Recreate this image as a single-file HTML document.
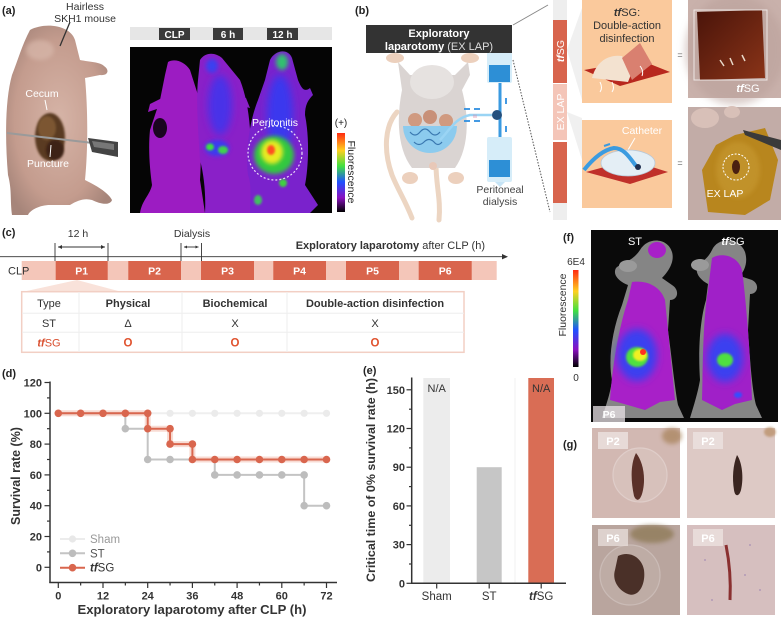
<!DOCTYPE html>
<html><head><meta charset="utf-8">
<style>
html,body{margin:0;padding:0;background:#fff;}
svg{display:block;font-family:"Liberation Sans",Arial,sans-serif;}
</style></head><body>
<svg width="781" height="617" viewBox="0 0 781 617" xmlns="http://www.w3.org/2000/svg">
<defs>
 <filter id="b1" x="-50%" y="-50%" width="200%" height="200%"><feGaussianBlur stdDeviation="1"/></filter>
 <filter id="b2" x="-50%" y="-50%" width="200%" height="200%"><feGaussianBlur stdDeviation="2"/></filter>
 <filter id="b4" x="-50%" y="-50%" width="200%" height="200%"><feGaussianBlur stdDeviation="4"/></filter>
 <linearGradient id="cbar" x1="0" y1="0" x2="0" y2="1">
  <stop offset="0" stop-color="#ff2a10"/>
  <stop offset="0.22" stop-color="#ffd020"/>
  <stop offset="0.42" stop-color="#40e040"/>
  <stop offset="0.62" stop-color="#2050ff"/>
  <stop offset="0.82" stop-color="#8a10c0"/>
  <stop offset="1" stop-color="#000"/>
 </linearGradient>
 <radialGradient id="skin" cx="0.5" cy="0.5" r="0.6">
  <stop offset="0" stop-color="#d6b4a7"/>
  <stop offset="0.7" stop-color="#c49c8e"/>
  <stop offset="1" stop-color="#a6857a"/>
 </radialGradient>
 <linearGradient id="patch" x1="0" y1="0" x2="1" y2="1">
  <stop offset="0" stop-color="#4a140a"/>
  <stop offset="1" stop-color="#8a3418"/>
 </linearGradient>
</defs>

<!-- ================= (a) ================= -->
<text x="2" y="14" font-size="11" font-weight="bold" fill="#222">(a)</text>
<text x="85" y="10" font-size="10.5" fill="#333" text-anchor="middle">Hairless</text>
<text x="85" y="22" font-size="10.5" fill="#333" text-anchor="middle">SKH1 mouse</text>
<path d="M30 30 C45 22,70 25,75 40 L80 60 C90 62,100 62,104 66 C110 70,108 76,100 75 L85 78 C88 110,88 150,85 180 C95 185,108 192,112 200 C110 206,100 204,92 200 C85 198,78 200,70 205 L50 205 C40 205,30 210,28 215 L12 215 C10 200,12 190,8 175 C5 140,5 100,12 75 C18 60,22 45,30 30 Z" fill="url(#skin)"/>
<ellipse cx="40" cy="50" rx="14" ry="10" fill="#d8b8ab" opacity="0.7" filter="url(#b2)"/>
<line x1="70" y1="22" x2="60" y2="46" stroke="#333" stroke-width="1.3"/>
<ellipse cx="50" cy="137" rx="15" ry="24" fill="#5a3a20" filter="url(#b1)"/>
<ellipse cx="47" cy="128" rx="9" ry="12" fill="#7c5630" filter="url(#b1)"/>
<ellipse cx="55" cy="150" rx="9" ry="10" fill="#3e2214" filter="url(#b1)"/>
<line x1="7" y1="133" x2="93" y2="143" stroke="#9a9a9a" stroke-width="2"/>
<polygon points="88,138 118,142 118,157 92,152" fill="#444"/>
<polygon points="92,141 114,144 114,150 94,147" fill="#777"/>
<text x="42" y="97" font-size="10.5" fill="#fff" text-anchor="middle">Cecum</text>
<line x1="45" y1="100" x2="47" y2="110" stroke="#fff" stroke-width="1"/>
<text x="48" y="167" font-size="10.5" fill="#fff" text-anchor="middle">Puncture</text>
<line x1="50" y1="157" x2="51" y2="145" stroke="#fff" stroke-width="1"/>

<rect x="130" y="27" width="202" height="13" fill="#e6e6e6"/>
<rect x="159" y="28" width="31" height="12" fill="#3a3a3a"/>
<rect x="213" y="28" width="30" height="12" fill="#3a3a3a"/>
<rect x="267" y="28" width="31" height="12" fill="#3a3a3a"/>
<text x="174.5" y="38" font-size="10" font-weight="bold" fill="#fff" text-anchor="middle">CLP</text>
<text x="228" y="38" font-size="10" font-weight="bold" fill="#fff" text-anchor="middle">6 h</text>
<text x="282.5" y="38" font-size="10" font-weight="bold" fill="#fff" text-anchor="middle">12 h</text>
<rect x="130" y="47" width="202" height="166" fill="#050505"/>
<!-- mouse 1 -->
<path d="M168 62 C175 58,185 62,190 70 L198 95 C200 120,202 150,200 180 L205 213 L140 213 C142 200,150 195,152 185 C150 170,148 150,150 130 L160 100 L165 75 Z" fill="#9c1cc2"/>
<path d="M162 98 L150 104 L148 112 L160 108 Z" fill="#9c1cc2"/>
<ellipse cx="160" cy="128" rx="7" ry="10" fill="#1a0520"/>
<!-- mouse 2 -->
<path d="M200 60 C205 52,215 52,222 58 L240 80 C248 100,252 130,250 160 C252 180,255 200,252 213 L205 213 C206 195,204 175,200 160 C198 130,196 100,198 80 Z" fill="#8a20c8"/>
<path d="M238 95 L246 98 L250 108 L242 106 Z" fill="#8a20c8"/>
<ellipse cx="220" cy="105" rx="12" ry="30" fill="#4a30e8" filter="url(#b4)"/>
<ellipse cx="212" cy="66" rx="6" ry="7" fill="#3a40f0" filter="url(#b2)"/>
<ellipse cx="217" cy="148" rx="12" ry="8" fill="#3a3af0" filter="url(#b2)"/>
<ellipse cx="210" cy="147" rx="4" ry="3.5" fill="#40e040" filter="url(#b1)"/>
<ellipse cx="223" cy="150" rx="5" ry="4" fill="#40d050" filter="url(#b1)"/>
<!-- mouse 3 -->
<path d="M270 60 C275 50,288 48,292 58 L298 80 C302 90,305 92,310 88 L313 95 C308 100,305 105,305 115 C310 140,308 170,305 185 L318 205 L310 213 L250 213 C250 200,252 185,248 175 C245 150,250 120,258 100 L265 80 Z" fill="#7a22cc"/>
<ellipse cx="280" cy="115" rx="13" ry="40" fill="#3a38ee" filter="url(#b4)"/>
<ellipse cx="282" cy="62" rx="6" ry="8" fill="#30c070" filter="url(#b2)"/>
<ellipse cx="274" cy="155" rx="20" ry="19" fill="#30c840" filter="url(#b2)"/>
<ellipse cx="272" cy="152" rx="11" ry="12" fill="#e8ea20" filter="url(#b2)"/>
<ellipse cx="271" cy="150" rx="4" ry="5" fill="#ff5020" filter="url(#b1)"/>
<ellipse cx="283" cy="183" rx="4" ry="4" fill="#40d040" filter="url(#b1)"/>
<ellipse cx="258" cy="200" rx="4" ry="5" fill="#40c060" filter="url(#b1)"/>
<circle cx="275" cy="153" r="27" fill="none" stroke="#fff" stroke-width="1.2" stroke-dasharray="2,2" opacity="0.85"/>
<text x="275" y="126" font-size="10.5" fill="#fff" text-anchor="middle">Peritonitis</text>
<rect x="337" y="133" width="8" height="79" fill="url(#cbar)"/>
<text x="341" y="126" font-size="10" fill="#222" text-anchor="middle">(+)</text>
<text transform="translate(348,172) rotate(90)" font-size="10.5" fill="#222" text-anchor="middle">Fluorescence</text>

<!-- ================= (b) ================= -->
<text x="355" y="14" font-size="11" font-weight="bold" fill="#222">(b)</text>
<path d="M397 112 C385 125,383 150,392 175 C398 190,405 200,412 218" fill="none" stroke="#ecd5c2" stroke-width="5" stroke-linecap="round"/>
<path d="M436 165 C436 185,441 200,439 220" fill="none" stroke="#ecd5c2" stroke-width="5" stroke-linecap="round"/>
<ellipse cx="395" cy="58" rx="9" ry="5" fill="#ecd0bd"/>
<ellipse cx="470" cy="58" rx="9" ry="5" fill="#ecd0bd"/>
<path d="M398 62 L410 75 L455 75 L468 62 L470 75 L462 90 C470 120,468 150,455 168 L412 168 C398 150,396 120,402 90 Z" fill="#dad4d2"/>
<ellipse cx="432" cy="82" rx="22" ry="17" fill="#e6e2e0"/>
<ellipse cx="410" cy="178" rx="8" ry="6" fill="#ecd0bd"/>
<ellipse cx="456" cy="178" rx="8" ry="6" fill="#ecd0bd"/>
<ellipse cx="433" cy="166" rx="4" ry="4" fill="#e8c8b8"/>
<circle cx="415" cy="120" r="7" fill="#d09a80"/>
<circle cx="430" cy="117" r="7" fill="#c89078"/>
<circle cx="446" cy="121" r="7" fill="#d09a80"/>
<path d="M403 126 A27 27 0 0 0 457 126 Z" fill="#8ccbee"/>
<path d="M410 132 q5 6 10 0 q5 -6 10 0 q5 6 10 0 M414 142 q5 5 10 0 q5 -5 10 0 q4 5 8 0" fill="none" stroke="#3a78b0" stroke-width="1.2"/>
<path d="M440 140 C450 130,455 118,470 115 L492 115" fill="none" stroke="#9ad4f4" stroke-width="2.5"/>
<g stroke="#2f8fe0" stroke-width="1.8">
<line x1="464" y1="109" x2="470" y2="109"/><line x1="474" y1="109" x2="480" y2="109"/>
<line x1="464" y1="121" x2="470" y2="121"/><line x1="474" y1="121" x2="480" y2="121"/>
<line x1="506" y1="98" x2="506" y2="104"/><line x1="506" y1="126" x2="506" y2="132"/>
</g>
<text x="473" y="117" font-size="4" fill="#e080a0">||||</text>
<line x1="500" y1="83" x2="500" y2="138" stroke="#3a9ae0" stroke-width="3"/>
<circle cx="497" cy="115" r="5" fill="#23507e"/>
<rect x="487" y="52" width="25" height="31" rx="2" fill="#d6edf9"/>
<rect x="489" y="65" width="21" height="17" fill="#2d8fd6"/>
<rect x="487" y="137" width="25" height="45" rx="2" fill="#d6edf9"/>
<rect x="489" y="160" width="21" height="17" fill="#2d8fd6"/>
<polygon points="495,182 505,182 500,187" fill="#c6e4f6"/>
<text x="500" y="193" font-size="10.5" fill="#444" text-anchor="middle">Peritoneal</text>
<text x="500" y="205" font-size="10.5" fill="#444" text-anchor="middle">dialysis</text>
<rect x="366" y="25" width="146" height="28" fill="#333"/>
<text x="439" y="37" font-size="11" font-weight="bold" fill="#fff" text-anchor="middle">Exploratory</text>
<text x="439" y="50" font-size="11" fill="#ddd" text-anchor="middle"><tspan font-weight="bold" fill="#fff">laparotomy</tspan> (EX LAP)</text>
<line x1="513" y1="25" x2="548" y2="5" stroke="#888" stroke-width="1"/>
<line x1="513" y1="60" x2="550" y2="212" stroke="#555" stroke-width="1" stroke-dasharray="1.5,1.5"/>
<polygon points="567,50 582,8 582,100" fill="#f0f0f0"/>
<polygon points="567,112 582,118 582,160" fill="#f0f0f0"/>
<rect x="553" y="0" width="14" height="20" fill="#eeeeee"/>
<rect x="553" y="20" width="14" height="63" fill="#d8644d"/>
<rect x="553" y="84" width="14" height="56" fill="#f4c5b8"/>
<rect x="553" y="142" width="14" height="61" fill="#d8644d"/>
<rect x="553" y="203" width="14" height="17" fill="#eeeeee"/>
<text transform="translate(564,51) rotate(-90)" font-size="10.5" fill="#fff" text-anchor="middle"><tspan font-weight="bold" font-style="italic">tf</tspan>SG</text>
<text transform="translate(564,112) rotate(-90)" font-size="10.5" fill="#fff" text-anchor="middle">EX LAP</text>
<rect x="582" y="0" width="90" height="103" fill="#fac99c"/>
<text x="627" y="16" font-size="11" fill="#333" text-anchor="middle"><tspan font-weight="bold" font-style="italic">tf</tspan>SG:</text>
<text x="627" y="29" font-size="11" fill="#333" text-anchor="middle">Double-action</text>
<text x="627" y="42" font-size="11" fill="#333" text-anchor="middle">disinfection</text>
<polygon points="584,70 640,60 670,72 620,86" fill="#b8281e"/>
<path d="M592 78 C596 62,608 54,622 56 L632 72 L628 82 Z" fill="#f3e2d0"/>
<polygon points="622,58 640,43 652,64 632,80" fill="#d98070"/>
<path d="M600 82 q3 6 0 10 M612 82 q3 6 0 10 M640 66 q4 5 2 10" fill="none" stroke="#fff" stroke-width="1"/>
<rect x="582" y="120" width="90" height="88" fill="#fac99c"/>
<text x="642" y="134" font-size="10.5" fill="#fff" text-anchor="middle">Catheter</text>
<line x1="635" y1="138" x2="628" y2="150" stroke="#fff" stroke-width="1"/>
<polygon points="586,172 630,160 668,172 630,184" fill="#c0302a"/>
<ellipse cx="628" cy="163" rx="27" ry="13" fill="#e4eef5" stroke="#b8c8d8" stroke-width="0.8"/>
<path d="M584 170 C592 160,602 150,614 148 C624 148,630 158,636 166" fill="none" stroke="#3b9be0" stroke-width="4"/>
<circle cx="638" cy="167" r="3" fill="#203050"/>
<line x1="604" y1="146" x2="610" y2="144" stroke="#3b9be0" stroke-width="2"/>
<text x="680" y="58" font-size="9" fill="#666" text-anchor="middle">=</text>
<text x="680" y="166" font-size="9" fill="#666" text-anchor="middle">=</text>
<rect x="688" y="0" width="93" height="98" fill="#c9b1ab"/>
<ellipse cx="735" cy="50" rx="50" ry="55" fill="#b89e98" opacity="0.5" filter="url(#b4)"/>
<polygon points="697,12 762,10 765,78 700,80" fill="url(#patch)"/>
<rect x="694" y="10" width="73" height="70" fill="none" stroke="#fff" stroke-width="1" opacity="0.7"/>
<path d="M720 60 l4 6 M730 58 l3 7 M742 55 l3 6" stroke="#e8d8c8" stroke-width="1.5"/>
<text x="748" y="92" font-size="11" fill="#fff" text-anchor="middle"><tspan font-weight="bold" font-style="italic">tf</tspan>SG</text>
<rect x="688" y="107" width="93" height="113" fill="#c2aca7"/>
<ellipse cx="705" cy="118" rx="14" ry="10" fill="#d8c0b8"/>
<ellipse cx="732" cy="112" rx="8" ry="6" fill="#d8c0b8"/>
<polygon points="735,135 765,128 778,160 770,200 745,215 708,212 702,170 716,145" fill="#b8861e"/>
<ellipse cx="738" cy="170" rx="22" ry="28" fill="#c89a30" opacity="0.6" filter="url(#b2)"/>
<ellipse cx="736" cy="167" rx="4" ry="7" fill="#4a2010"/>
<circle cx="736" cy="167" r="13" fill="none" stroke="#fff" stroke-width="1" stroke-dasharray="2,1.5"/>
<polygon points="743,130 781,140 781,150 745,135" fill="#3a3a3a"/>
<text x="725" y="197" font-size="10.5" fill="#fff" text-anchor="middle">EX LAP</text>

<!-- ================= (c) ================= -->
<text x="2" y="236" font-size="11" font-weight="bold" fill="#222">(c)</text>
<text x="78" y="237" font-size="10.5" fill="#333" text-anchor="middle">12 h</text>
<text x="192" y="237" font-size="10.5" fill="#333" text-anchor="middle">Dialysis</text>
<g stroke="#333" stroke-width="0.9" fill="none">
<line x1="55" y1="243" x2="55" y2="261"/><line x1="108" y1="243" x2="108" y2="261"/>
<line x1="58" y1="247" x2="105" y2="247"/>
<line x1="181" y1="243" x2="181" y2="261"/><line x1="201.5" y1="243" x2="201.5" y2="261"/>
<line x1="184" y1="247" x2="198.5" y2="247"/>
<line x1="0" y1="256.7" x2="504" y2="256.7"/>
</g>
<polygon points="58,247 62,245 62,249" fill="#333"/><polygon points="105,247 101,245 101,249" fill="#333"/>
<polygon points="184,247 187,245.5 187,248.5" fill="#333"/><polygon points="198.5,247 195.5,245.5 195.5,248.5" fill="#333"/>
<polygon points="508,256.7 502,254 502,259.4" fill="#333"/>
<text x="485" y="249" font-size="11" fill="#333" text-anchor="end"><tspan font-weight="bold">Exploratory laparotomy</tspan> after CLP (h)</text>
<rect x="21.7" y="261" width="475" height="19" fill="#f4c6b9"/>
<g fill="#d9654d">
<rect x="55.7" y="261" width="52" height="19"/>
<rect x="128.3" y="261" width="52.7" height="19"/>
<rect x="201" y="261" width="53" height="19"/>
<rect x="273.3" y="261" width="52.7" height="19"/>
<rect x="346" y="261" width="53" height="19"/>
<rect x="418.7" y="261" width="53" height="19"/>
</g>
<g font-size="10.5" font-weight="bold" fill="#fff" text-anchor="middle">
<text x="81.7" y="274.5">P1</text><text x="154.6" y="274.5">P2</text><text x="227.5" y="274.5">P3</text>
<text x="299.6" y="274.5">P4</text><text x="372.5" y="274.5">P5</text><text x="445.2" y="274.5">P6</text>
</g>
<text x="8" y="274.5" font-size="11" fill="#333">CLP</text>
<polygon points="77,280 22,292 122,292" fill="#f9e2da"/>
<rect x="21.7" y="291.7" width="442.3" height="60.6" fill="#fff" stroke="#f2cfc4" stroke-width="1.5"/>
<g stroke="#eeeeee" stroke-width="1">
<line x1="22" y1="313.3" x2="464" y2="313.3"/><line x1="22" y1="332.3" x2="464" y2="332.3"/>
<line x1="79" y1="292" x2="79" y2="352"/><line x1="182" y1="292" x2="182" y2="352"/><line x1="287" y1="292" x2="287" y2="352"/>
</g>
<g font-size="11" fill="#333" text-anchor="middle">
<text x="49" y="307">Type</text>
<text x="128" y="307" font-weight="bold">Physical</text>
<text x="235" y="307" font-weight="bold">Biochemical</text>
<text x="375" y="307" font-weight="bold">Double-action disinfection</text>
<text x="49" y="327">ST</text>
<text x="128" y="327">Δ</text>
<text x="235" y="327">X</text>
<text x="375" y="327">X</text>
</g>
<text x="49" y="346.5" font-size="11" fill="#d94f2f" text-anchor="middle"><tspan font-weight="bold" font-style="italic">tf</tspan>SG</text>
<g font-size="11.5" font-weight="bold" fill="#e0522e" text-anchor="middle">
<text x="128" y="346.5">O</text><text x="235" y="346.5">O</text><text x="375" y="346.5">O</text>
</g>

<!-- ================= (d) ================= -->
<text x="2" y="377" font-size="11" font-weight="bold" fill="#222">(d)</text>
<g stroke="#333" stroke-width="1.5">
<line x1="50" y1="381.5" x2="50" y2="583"/>
<line x1="49.3" y1="582.5" x2="337" y2="582.5"/>
</g>
<g stroke="#333" stroke-width="1.2">
<line x1="44.5" y1="567.3" x2="50" y2="567.3"/><line x1="44.5" y1="536.5" x2="50" y2="536.5"/>
<line x1="44.5" y1="505.7" x2="50" y2="505.7"/><line x1="44.5" y1="474.9" x2="50" y2="474.9"/>
<line x1="44.5" y1="444.1" x2="50" y2="444.1"/><line x1="44.5" y1="413.3" x2="50" y2="413.3"/>
<line x1="44.5" y1="382.5" x2="50" y2="382.5"/>
<line x1="47" y1="551.9" x2="50" y2="551.9"/><line x1="47" y1="521.1" x2="50" y2="521.1"/>
<line x1="47" y1="490.3" x2="50" y2="490.3"/><line x1="47" y1="459.5" x2="50" y2="459.5"/>
<line x1="47" y1="428.7" x2="50" y2="428.7"/><line x1="47" y1="397.9" x2="50" y2="397.9"/>
<line x1="58.3" y1="582.5" x2="58.3" y2="588"/><line x1="103" y1="582.5" x2="103" y2="588"/>
<line x1="147.7" y1="582.5" x2="147.7" y2="588"/><line x1="192.4" y1="582.5" x2="192.4" y2="588"/>
<line x1="237.1" y1="582.5" x2="237.1" y2="588"/><line x1="281.8" y1="582.5" x2="281.8" y2="588"/>
<line x1="326.5" y1="582.5" x2="326.5" y2="588"/>
<line x1="80.65" y1="582.5" x2="80.65" y2="585.5"/><line x1="125.35" y1="582.5" x2="125.35" y2="585.5"/>
<line x1="170.05" y1="582.5" x2="170.05" y2="585.5"/><line x1="214.75" y1="582.5" x2="214.75" y2="585.5"/>
<line x1="259.45" y1="582.5" x2="259.45" y2="585.5"/><line x1="304.15" y1="582.5" x2="304.15" y2="585.5"/>
</g>
<g font-size="11" font-weight="bold" fill="#333" text-anchor="end">
<text x="42" y="571.3">0</text><text x="42" y="540.5">20</text><text x="42" y="509.7">40</text>
<text x="42" y="478.9">60</text><text x="42" y="448.1">80</text><text x="42" y="417.3">100</text><text x="42" y="386.5">120</text>
</g>
<g font-size="11" font-weight="bold" fill="#333" text-anchor="middle">
<text x="58.3" y="599.5">0</text><text x="103" y="599.5">12</text><text x="147.7" y="599.5">24</text>
<text x="192.4" y="599.5">36</text><text x="237.1" y="599.5">48</text><text x="281.8" y="599.5">60</text><text x="326.5" y="599.5">72</text>
</g>
<text x="192" y="614" font-size="12.5" font-weight="bold" fill="#333" text-anchor="middle" textLength="229" lengthAdjust="spacingAndGlyphs">Exploratory laparotomy after CLP (h)</text>
<text transform="translate(20,476) rotate(-90)" font-size="12.5" font-weight="bold" fill="#333" text-anchor="middle">Survival rate (%)</text>
<line x1="58.3" y1="413.3" x2="326.5" y2="413.3" stroke="#efefef" stroke-width="2"/>
<g fill="#ebebeb">
<circle cx="58.3" cy="413.3" r="3.6"/><circle cx="80.65" cy="413.3" r="3.6"/><circle cx="103" cy="413.3" r="3.6"/>
<circle cx="125.35" cy="413.3" r="3.6"/><circle cx="147.7" cy="413.3" r="3.6"/><circle cx="170.05" cy="413.3" r="3.6"/>
<circle cx="192.4" cy="413.3" r="3.6"/><circle cx="214.75" cy="413.3" r="3.6"/><circle cx="237.1" cy="413.3" r="3.6"/>
<circle cx="259.45" cy="413.3" r="3.6"/><circle cx="281.8" cy="413.3" r="3.6"/><circle cx="304.15" cy="413.3" r="3.6"/>
<circle cx="326.5" cy="413.3" r="3.6"/>
</g>
<polyline points="58.3,413.3 125.35,413.3 125.35,428.7 147.7,428.7 147.7,459.5 214.75,459.5 214.75,474.9 304.15,474.9 304.15,505.7 326.5,505.7" fill="none" stroke="#c4c4c4" stroke-width="2"/>
<g fill="#bdbdbd">
<circle cx="125.35" cy="428.7" r="3.8"/><circle cx="147.7" cy="459.5" r="3.8"/><circle cx="170.05" cy="459.5" r="3.8"/>
<circle cx="214.75" cy="474.9" r="3.8"/><circle cx="237.1" cy="474.9" r="3.8"/><circle cx="259.45" cy="474.9" r="3.8"/>
<circle cx="281.8" cy="474.9" r="3.8"/><circle cx="304.15" cy="474.9" r="3.8"/><circle cx="304.15" cy="505.7" r="3.8"/>
<circle cx="326.5" cy="505.7" r="3.8"/>
</g>
<polyline points="58.3,413.3 147.7,413.3 147.7,428.7 170.05,428.7 170.05,444.1 192.4,444.1 192.4,459.5 326.5,459.5" fill="none" stroke="#f2b8a8" stroke-width="6" opacity="0.5"/>
<polyline points="58.3,413.3 147.7,413.3 147.7,428.7 170.05,428.7 170.05,444.1 192.4,444.1 192.4,459.5 326.5,459.5" fill="none" stroke="#d9664e" stroke-width="2"/>
<g fill="#d9664e">
<circle cx="58.3" cy="413.3" r="3.8"/><circle cx="80.65" cy="413.3" r="3.8"/><circle cx="103" cy="413.3" r="3.8"/>
<circle cx="125.35" cy="413.3" r="3.8"/><circle cx="147.7" cy="413.3" r="3.8"/><circle cx="147.7" cy="428.7" r="3.8"/>
<circle cx="170.05" cy="428.7" r="3.8"/><circle cx="170.05" cy="444.1" r="3.8"/><circle cx="192.4" cy="444.1" r="3.8"/>
<circle cx="192.4" cy="459.5" r="3.8"/><circle cx="214.75" cy="459.5" r="3.8"/><circle cx="237.1" cy="459.5" r="3.8"/>
<circle cx="259.45" cy="459.5" r="3.8"/><circle cx="281.8" cy="459.5" r="3.8"/><circle cx="304.15" cy="459.5" r="3.8"/>
<circle cx="326.5" cy="459.5" r="3.8"/>
</g>
<line x1="60" y1="539" x2="85" y2="539" stroke="#ececec" stroke-width="2"/><circle cx="72.5" cy="539" r="3.6" fill="#e8e8e8"/>
<text x="90" y="543" font-size="11.5" fill="#999">Sham</text>
<line x1="60" y1="553.3" x2="85" y2="553.3" stroke="#c4c4c4" stroke-width="2"/><circle cx="72.5" cy="553.3" r="3.8" fill="#bdbdbd"/>
<text x="90" y="557.3" font-size="11.5" fill="#555">ST</text>
<line x1="60" y1="567.7" x2="85" y2="567.7" stroke="#d9664e" stroke-width="2"/><circle cx="72.5" cy="567.7" r="3.8" fill="#d9664e"/>
<text x="90" y="571.7" font-size="11.5" fill="#333"><tspan font-weight="bold" font-style="italic">tf</tspan>SG</text>

<!-- ================= (e) ================= -->
<text x="363" y="374" font-size="11" font-weight="bold" fill="#222">(e)</text>
<rect x="423.3" y="378" width="26.7" height="205.3" fill="#ececec"/>
<rect x="476.7" y="467.2" width="25" height="116.1" fill="#c6c6c6"/>
<rect x="528.3" y="378" width="25.7" height="205.3" fill="#d96d55"/>
<line x1="515" y1="378" x2="515" y2="583" stroke="#f2f2f2" stroke-width="1"/>
<text x="436.7" y="392" font-size="11" fill="#333" text-anchor="middle">N/A</text>
<text x="541.2" y="392" font-size="11" fill="#333" text-anchor="middle">N/A</text>
<g stroke="#333" stroke-width="1.5">
<line x1="411.7" y1="377.5" x2="411.7" y2="584"/>
<line x1="411" y1="583.3" x2="566" y2="583.3"/>
</g>
<g stroke="#333" stroke-width="1.2">
<line x1="406.5" y1="583.3" x2="411.7" y2="583.3"/><line x1="406.5" y1="544.6" x2="411.7" y2="544.6"/>
<line x1="406.5" y1="505.9" x2="411.7" y2="505.9"/><line x1="406.5" y1="467.2" x2="411.7" y2="467.2"/>
<line x1="406.5" y1="428.5" x2="411.7" y2="428.5"/><line x1="406.5" y1="389.8" x2="411.7" y2="389.8"/>
<line x1="409" y1="564" x2="411.7" y2="564"/><line x1="409" y1="525.3" x2="411.7" y2="525.3"/>
<line x1="409" y1="486.6" x2="411.7" y2="486.6"/><line x1="409" y1="447.9" x2="411.7" y2="447.9"/>
<line x1="409" y1="409.2" x2="411.7" y2="409.2"/>
<line x1="436.7" y1="583.3" x2="436.7" y2="588.5"/><line x1="489.2" y1="583.3" x2="489.2" y2="588.5"/>
<line x1="541.2" y1="583.3" x2="541.2" y2="588.5"/>
</g>
<g font-size="11" font-weight="bold" fill="#333" text-anchor="end">
<text x="405" y="587.3">0</text><text x="405" y="548.6">30</text><text x="405" y="509.9">60</text>
<text x="405" y="471.2">90</text><text x="405" y="432.5">120</text><text x="405" y="393.8">150</text>
</g>
<g font-size="11.5" fill="#333" text-anchor="middle">
<text x="436.7" y="600">Sham</text><text x="489.2" y="600">ST</text>
<text x="541.2" y="600"><tspan font-weight="bold" font-style="italic">tf</tspan>SG</text>
</g>
<text transform="translate(375,480) rotate(-90)" font-size="11.5" font-weight="bold" fill="#333" text-anchor="middle" textLength="204" lengthAdjust="spacingAndGlyphs">Critical time of 0% survival rate (h)</text>

<!-- ================= (f) ================= -->
<text x="563" y="241" font-size="11" font-weight="bold" fill="#222">(f)</text>
<text x="576" y="265" font-size="10" fill="#333" text-anchor="middle">6E4</text>
<rect x="573" y="270" width="5.5" height="97" fill="url(#cbar)"/>
<text x="576" y="381" font-size="10" fill="#333" text-anchor="middle">0</text>
<text transform="translate(566,305) rotate(-90)" font-size="10.5" fill="#333" text-anchor="middle">Fluorescence</text>
<rect x="591" y="230" width="187" height="192" fill="#0a0a0a"/>
<path d="M640 250 C648 236,668 238,672 252 C675 262,668 272,662 278 L672 285 C680 290,678 300,670 300 L668 330 C672 360,675 390,678 405 L684 418 L602 418 C606 405,610 395,612 380 C608 360,612 330,622 305 L628 285 C620 282,612 275,616 268 C622 262,632 262,640 250 Z" fill="#858585"/>
<ellipse cx="628" cy="266" rx="9" ry="6" fill="#9a9a9a"/>
<path d="M632 282 C645 280,660 285,665 300 C668 330,672 370,675 400 L660 402 L645 410 L610 400 C612 370,618 330,628 300 Z" fill="#a820c8"/>
<ellipse cx="657" cy="250" rx="9" ry="8" fill="#a820c8"/>
<ellipse cx="637" cy="355" rx="20" ry="26" fill="#3a40f0" filter="url(#b4)"/>
<ellipse cx="637" cy="357" rx="11" ry="10" fill="#50e040" filter="url(#b1)"/>
<ellipse cx="640" cy="355" rx="7" ry="6" fill="#f0f020" filter="url(#b1)"/>
<circle cx="643" cy="352" r="3" fill="#ff3020"/>
<path d="M712 250 C718 236,740 238,745 252 C748 262,745 270,740 276 L752 280 C760 284,758 294,750 294 L748 330 C750 360,752 390,756 405 L762 418 L690 418 C694 405,698 392,700 380 C698 350,700 320,706 300 L708 284 C700 280,694 272,698 266 C704 260,708 258,712 250 Z" fill="#858585"/>
<ellipse cx="700" cy="265" rx="9" ry="6" fill="#9a9a9a"/>
<path d="M712 258 C722 252,738 256,742 270 C746 300,750 350,752 400 L735 404 L722 410 L702 400 C703 360,703 320,708 290 Z" fill="#a020c8"/>
<ellipse cx="725" cy="358" rx="18" ry="24" fill="#3a40f0" filter="url(#b4)"/>
<ellipse cx="725" cy="360" rx="8" ry="7" fill="#50e040" filter="url(#b1)"/>
<ellipse cx="738" cy="395" rx="4" ry="3" fill="#3050ff" filter="url(#b1)"/>
<text x="635" y="245" font-size="11" fill="#fff" text-anchor="middle">ST</text>
<text x="733" y="245" font-size="11" fill="#fff" text-anchor="middle"><tspan font-weight="bold" font-style="italic">tf</tspan>SG</text>
<rect x="593" y="406" width="32" height="16" fill="#e8e2e6" opacity="0.75"/>
<text x="609" y="418" font-size="10.5" font-weight="bold" fill="#fff" text-anchor="middle">P6</text>

<!-- ================= (g) ================= -->
<text x="563" y="448" font-size="11" font-weight="bold" fill="#222">(g)</text>
<rect x="592" y="428" width="88" height="90" fill="#d2b8b2"/>
<ellipse cx="672" cy="436" rx="10" ry="8" fill="#a07848" opacity="0.6" filter="url(#b2)"/>
<circle cx="640" cy="475" r="27" fill="#e4d6d0" opacity="0.3" stroke="#fff" stroke-width="1.2"/>
<path d="M636 453 C642 460,646 475,643 490 C641 500,637 503,634 496 C631 482,630 465,636 453 Z" fill="#5a3028"/>
<rect x="598" y="432" width="30" height="17" fill="#ece2e0" opacity="0.8"/>
<text x="613" y="445" font-size="11" font-weight="bold" fill="#fff" text-anchor="middle">P2</text>
<rect x="687" y="428" width="88" height="90" fill="#ddc9c5"/>
<ellipse cx="770" cy="432" rx="6" ry="5" fill="#b08050" opacity="0.6" filter="url(#b1)"/>
<path d="M737 455 C742 462,744 478,741 490 C739 497,735 497,734 490 C732 478,733 465,737 455 Z" fill="#3a2520"/>
<rect x="693" y="432" width="30" height="17" fill="#ece2e0" opacity="0.8"/>
<text x="708" y="445" font-size="11" font-weight="bold" fill="#fff" text-anchor="middle">P2</text>
<rect x="592" y="525" width="88" height="90" fill="#b9a59e"/>
<ellipse cx="652" cy="534" rx="22" ry="9" fill="#8a7650" opacity="0.7" filter="url(#b2)"/>
<circle cx="630" cy="575" r="30" fill="#cfc2bc" opacity="0.25" stroke="#fff" stroke-width="1.2"/>
<path d="M618 556 C630 550,642 558,644 570 C646 585,638 598,628 594 C618 590,612 580,615 570 Z" fill="#4a3028"/>
<rect x="598" y="529" width="30" height="17" fill="#e6dcd8" opacity="0.8"/>
<text x="613" y="542" font-size="11" font-weight="bold" fill="#fff" text-anchor="middle">P6</text>
<rect x="687" y="525" width="88" height="90" fill="#d6bfbf"/>
<g fill="#9a80b0" opacity="0.6">
<circle cx="705" cy="560" r="1"/><circle cx="750" cy="545" r="1"/><circle cx="760" cy="590" r="1"/><circle cx="712" cy="600" r="1"/><circle cx="745" cy="575" r="1"/>
</g>
<path d="M726 545 C729 560,731 580,730 600" fill="none" stroke="#8a3030" stroke-width="3"/>
<rect x="693" y="529" width="30" height="17" fill="#ece2e0" opacity="0.8"/>
<text x="708" y="542" font-size="11" font-weight="bold" fill="#fff" text-anchor="middle">P6</text>
</svg>
</body></html>
